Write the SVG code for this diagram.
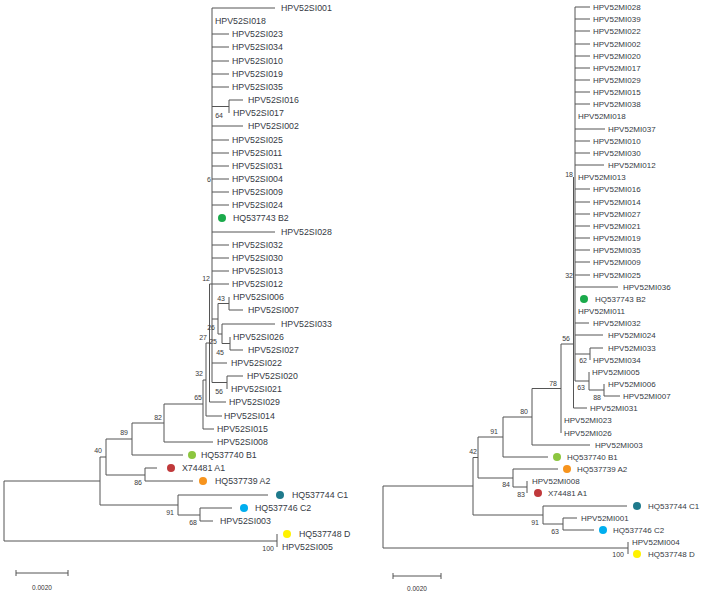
<svg xmlns="http://www.w3.org/2000/svg" width="702" height="595" viewBox="0 0 702 595">
<style>
.e{fill:none;stroke:#555;stroke-width:1}
text{font-family:"Liberation Sans",Arial,sans-serif}
.l{font-size:8.8px;fill:#363a44}
.lr{font-size:8.8px;fill:#363a44}
.r{font-size:8px;fill:#363a44}
.b{font-size:7px;fill:#3a3a3a;text-anchor:end}
.s{font-size:6.5px;fill:#333;text-anchor:middle}
</style>
<rect width="702" height="595" fill="#fff"/>
<g id="connectors">
<path class="e" d="M4 481V541M4 481H100M4 541H277M277 534V547
M100 457V505M100 457H106M100 505H178
M106 439V475M106 439H132M106 475H145
M145 468V481M145 468H157M145 481H193
M132 423V455M132 423H164M132 455H183
M164 404V442M164 404H203M164 442H213
M203 380V429M203 380H206M203 429H214
M206 343V416M206 343H209.5M206 416H222
M209.5 284V402M209.5 284H212M209.5 402H226
M212 8V382.5M212 8H275
M212 34H229M212 47H229M212 61H229M212 74H229M212 87H229
M212 106.5H229M229 100V113M229 100H243
M212 126H243
M212 140H229M212 153H229M212 166H229M212 179H229M212 192H229M212 205H229
M212 232H275
M212 245H229M212 258H229M212 271H229M212 284H229
M212 319H218M218 303.5V334M218 303.5H229M229 297V310M229 310H243
M218 334H222M222 324V343.5M222 324H275M222 343.5H230M230 337V350M230 350H243
M212 363H227
M212 382.5H227M227 376V389M227 376H243
M178 495V515M178 495H268M178 515H200
M200 508V521M200 508H232M200 521H213
M16 573H68M16 570V576M68 570V576"/>
<path class="e" d="M383 486V548M383 486H473M383 548H628M628 542V554
M473 457.5V515M473 457.5H478M473 515H543
M478 437V478M478 437H503M478 478H513
M503 417V457M503 417H532M503 457H548
M532 388.5V445M532 388.5H561M532 445H590
M561 344V433M561 344H573.5
M573.5 177V408M573.5 408H587
M575 7V381
M575 7H590M575 19H590M575 31H590M575 44H590M575 56H590M575 68H590M575 80H590M575 92H590M575 104H590
M575 129H605M575 141H590M575 153H590M575 165H604
M575 189H590M575 202H590M575 214H590M575 226H590M575 238H590M575 250H590M575 262H590M575 275H590
M575 287H618M575 323H589M575 335H603
M575 354H590M590 348V360M590 348H603
M575 381H589M589 372V390M589 390H604M604 384V396M604 396H620
M513 469V487M513 469H558M513 487H527M527 481V493
M543 506V524M543 506H627M543 524H563M563 518V530M563 518H577M563 530H594
M393 576H441M393 573V579M441 573V579"/>
</g>
<g id="left-tree">
<g id="L-SI001"><text class="lr" x="281" y="11">HPV52SI001</text></g>
<g id="L-SI018"><text class="l" x="215" y="24">HPV52SI018</text></g>
<g id="L-SI023"><text class="l" x="232" y="37">HPV52SI023</text></g>
<g id="L-SI034"><text class="l" x="232" y="50">HPV52SI034</text></g>
<g id="L-SI010"><text class="l" x="232" y="64">HPV52SI010</text></g>
<g id="L-SI019"><text class="l" x="232" y="77">HPV52SI019</text></g>
<g id="L-SI035"><text class="l" x="232" y="90">HPV52SI035</text></g>
<g id="L-SI016"><text class="lr" x="248" y="103">HPV52SI016</text></g>
<g id="L-SI017"><text class="l" x="233" y="116">HPV52SI017</text></g>
<g id="L-SI002"><text class="lr" x="248" y="129">HPV52SI002</text></g>
<g id="L-SI025"><text class="l" x="232" y="143">HPV52SI025</text></g>
<g id="L-SI011"><text class="l" x="232" y="156">HPV52SI011</text></g>
<g id="L-SI031"><text class="l" x="232" y="169">HPV52SI031</text></g>
<g id="L-SI004"><text class="l" x="232" y="182">HPV52SI004</text></g>
<g id="L-SI009"><text class="l" x="232" y="195">HPV52SI009</text></g>
<g id="L-SI024"><text class="l" x="232" y="208">HPV52SI024</text></g>
<g id="L-B2"><circle cx="222" cy="218" r="4" fill="#1aaa4b"/><text class="lr" x="233" y="221">HQ537743 B2</text></g>
<g id="L-SI028"><text class="lr" x="281" y="235">HPV52SI028</text></g>
<g id="L-SI032"><text class="l" x="232" y="248">HPV52SI032</text></g>
<g id="L-SI030"><text class="l" x="232" y="261">HPV52SI030</text></g>
<g id="L-SI013"><text class="l" x="232" y="274">HPV52SI013</text></g>
<g id="L-SI012"><text class="l" x="232" y="287">HPV52SI012</text></g>
<g id="L-SI006"><text class="l" x="233" y="300">HPV52SI006</text></g>
<g id="L-SI007"><text class="lr" x="248" y="313">HPV52SI007</text></g>
<g id="L-SI033"><text class="lr" x="281" y="327">HPV52SI033</text></g>
<g id="L-SI026"><text class="l" x="233" y="340">HPV52SI026</text></g>
<g id="L-SI027"><text class="lr" x="248" y="353">HPV52SI027</text></g>
<g id="L-SI022"><text class="l" x="231" y="366">HPV52SI022</text></g>
<g id="L-SI020"><text class="lr" x="247" y="379">HPV52SI020</text></g>
<g id="L-SI021"><text class="l" x="231" y="392">HPV52SI021</text></g>
<g id="L-SI029"><text class="l" x="229" y="405">HPV52SI029</text></g>
<g id="L-SI014"><text class="l" x="224" y="419">HPV52SI014</text></g>
<g id="L-SI015"><text class="lr" x="217" y="432">HPV52SI015</text></g>
<g id="L-SI008"><text class="lr" x="217" y="445">HPV52SI008</text></g>
<g id="L-B1"><circle cx="192" cy="455" r="4" fill="#8cc63f"/><text class="lr" x="201" y="458">HQ537740 B1</text></g>
<g id="L-A1"><circle cx="171" cy="468" r="4" fill="#c0393b"/><text class="lr" x="182" y="471">X74481 A1</text></g>
<g id="L-A2"><circle cx="203" cy="481" r="4" fill="#f7941d"/><text class="lr" x="215" y="484">HQ537739 A2</text></g>
<g id="L-C1"><circle cx="280" cy="495" r="4" fill="#1f7a8c"/><text class="lr" x="292" y="498">HQ537744 C1</text></g>
<g id="L-C2"><circle cx="244" cy="508" r="4" fill="#00aeef"/><text class="lr" x="255" y="511">HQ537746 C2</text></g>
<g id="L-SI003"><text class="l" x="220" y="524">HPV52SI003</text></g>
<g id="L-D"><circle cx="287" cy="534" r="4" fill="#fff200"/><text class="lr" x="299" y="537">HQ537748 D</text></g>
<g id="L-SI005"><text class="l" x="282" y="550">HPV52SI005</text></g>
<g id="L-bootstrap">
<text class="b" x="223" y="118">64</text><text class="b" x="211" y="182">6</text><text class="b" x="210" y="281">12</text>
<text class="b" x="225" y="301">43</text><text class="b" x="215" y="330">26</text><text class="b" x="207" y="340">27</text>
<text class="b" x="217" y="344">25</text><text class="b" x="224" y="355">45</text><text class="b" x="223" y="394">56</text>
<text class="b" x="203" y="376">32</text><text class="b" x="202" y="400">65</text><text class="b" x="162" y="420">82</text>
<text class="b" x="128" y="435">89</text><text class="b" x="102" y="453">40</text><text class="b" x="142" y="485">86</text>
<text class="b" x="174" y="515">91</text><text class="b" x="197" y="525">68</text><text class="b" x="274" y="551">100</text>
</g>
<g id="L-scale"><text class="s" x="42" y="590">0.0020</text></g>
</g>
<g id="right-tree">
<g id="R-MI028"><text class="r" x="593" y="10">HPV52MI028</text></g>
<g id="R-MI039"><text class="r" x="593" y="22">HPV52MI039</text></g>
<g id="R-MI022"><text class="r" x="593" y="34">HPV52MI022</text></g>
<g id="R-MI002"><text class="r" x="593" y="47">HPV52MI002</text></g>
<g id="R-MI020"><text class="r" x="593" y="59">HPV52MI020</text></g>
<g id="R-MI017"><text class="r" x="593" y="71">HPV52MI017</text></g>
<g id="R-MI029"><text class="r" x="593" y="83">HPV52MI029</text></g>
<g id="R-MI015"><text class="r" x="593" y="95">HPV52MI015</text></g>
<g id="R-MI038"><text class="r" x="593" y="107">HPV52MI038</text></g>
<g id="R-MI018"><text class="r" x="578" y="119">HPV52MI018</text></g>
<g id="R-MI037"><text class="r" x="608" y="132">HPV52MI037</text></g>
<g id="R-MI010"><text class="r" x="593" y="144">HPV52MI010</text></g>
<g id="R-MI030"><text class="r" x="593" y="156">HPV52MI030</text></g>
<g id="R-MI012"><text class="r" x="608" y="168">HPV52MI012</text></g>
<g id="R-MI013"><text class="r" x="578" y="180">HPV52MI013</text></g>
<g id="R-MI016"><text class="r" x="593" y="192">HPV52MI016</text></g>
<g id="R-MI014"><text class="r" x="593" y="205">HPV52MI014</text></g>
<g id="R-MI027"><text class="r" x="593" y="217">HPV52MI027</text></g>
<g id="R-MI021"><text class="r" x="593" y="229">HPV52MI021</text></g>
<g id="R-MI019"><text class="r" x="593" y="241">HPV52MI019</text></g>
<g id="R-MI035"><text class="r" x="593" y="253">HPV52MI035</text></g>
<g id="R-MI009"><text class="r" x="593" y="265">HPV52MI009</text></g>
<g id="R-MI025"><text class="r" x="593" y="278">HPV52MI025</text></g>
<g id="R-MI036"><text class="r" x="623" y="290">HPV52MI036</text></g>
<g id="R-B2"><circle cx="584" cy="299" r="4" fill="#1aaa4b"/><text class="r" x="595" y="302">HQ537743 B2</text></g>
<g id="R-MI011"><text class="r" x="578" y="314">HPV52MI011</text></g>
<g id="R-MI032"><text class="r" x="593" y="326">HPV52MI032</text></g>
<g id="R-MI024"><text class="r" x="608" y="338">HPV52MI024</text></g>
<g id="R-MI033"><text class="r" x="608" y="351">HPV52MI033</text></g>
<g id="R-MI034"><text class="r" x="593" y="363">HPV52MI034</text></g>
<g id="R-MI005"><text class="r" x="592" y="375">HPV52MI005</text></g>
<g id="R-MI006"><text class="r" x="608" y="387">HPV52MI006</text></g>
<g id="R-MI007"><text class="r" x="623" y="399">HPV52MI007</text></g>
<g id="R-MI031"><text class="r" x="590" y="411">HPV52MI031</text></g>
<g id="R-MI023"><text class="r" x="564" y="423">HPV52MI023</text></g>
<g id="R-MI026"><text class="r" x="564" y="436">HPV52MI026</text></g>
<g id="R-MI003"><text class="r" x="595" y="448">HPV52MI003</text></g>
<g id="R-B1"><circle cx="557" cy="457" r="4" fill="#8cc63f"/><text class="r" x="567" y="460">HQ537740 B1</text></g>
<g id="R-A2"><circle cx="567" cy="469" r="4" fill="#f7941d"/><text class="r" x="577" y="472">HQ537739 A2</text></g>
<g id="R-MI008"><text class="r" x="532" y="484">HPV52MI008</text></g>
<g id="R-A1"><circle cx="538" cy="493" r="4" fill="#c0393b"/><text class="r" x="548" y="496">X74481 A1</text></g>
<g id="R-C1"><circle cx="637" cy="506" r="4" fill="#1f7a8c"/><text class="r" x="648" y="509">HQ537744 C1</text></g>
<g id="R-MI001"><text class="r" x="581" y="521">HPV52MI001</text></g>
<g id="R-C2"><circle cx="603" cy="530" r="4" fill="#00aeef"/><text class="r" x="613" y="533">HQ537746 C2</text></g>
<g id="R-MI004"><text class="r" x="632" y="545">HPV52MI004</text></g>
<g id="R-D"><circle cx="637" cy="554" r="4" fill="#fff200"/><text class="r" x="648" y="557">HQ537748 D</text></g>
<g id="R-bootstrap">
<text class="b" x="573" y="177">18</text><text class="b" x="573" y="278">32</text><text class="b" x="570" y="341">56</text>
<text class="b" x="587" y="363">62</text><text class="b" x="585" y="390">63</text><text class="b" x="601" y="400">88</text>
<text class="b" x="557" y="386">78</text><text class="b" x="528" y="414">80</text><text class="b" x="498" y="434">91</text>
<text class="b" x="477" y="454">42</text><text class="b" x="510" y="487">84</text><text class="b" x="525" y="497">83</text>
<text class="b" x="539" y="525">91</text><text class="b" x="559" y="534">63</text><text class="b" x="624" y="557">100</text>
</g>
<g id="R-scale"><text class="s" x="417" y="591">0.0020</text></g>
</g>
</svg>
